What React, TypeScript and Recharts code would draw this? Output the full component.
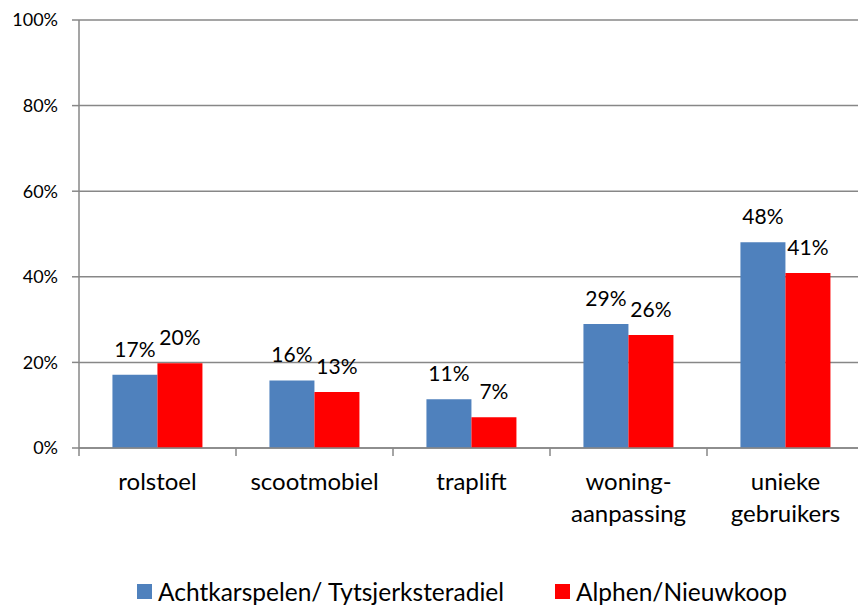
import React from 'react';
import { BarChart, Bar, XAxis, YAxis, CartesianGrid, LabelList, Legend } from 'recharts';

const categories = ['rolstoel', 'scootmobiel', 'traplift', 'woning-\naanpassing', 'unieke\ngebruikers'];
const seriesNames = ['Achtkarspelen/ Tytsjerksteradiel', 'Alphen/Nieuwkoop'];
const achtkarspelen = [17.1, 15.8, 11.4, 29.0, 48.1];
const alphen = [19.8, 13.1, 7.2, 26.4, 40.9];
const yTicks = [0, 20, 40, 60, 80, 100];
const colors = ['#4F81BD', '#FF0000'];

const data = categories.map((c, i) => ({ name: c, a: achtkarspelen[i], b: alphen[i] }));

const FONT = 'Lato, "Open Sans", sans-serif';
const GRAY = '#878787';

const CatTick = (props: any) => {
  const { x, y, payload } = props;
  const off = payload && payload.offset ? payload.offset : 0;
  const lines = String(payload.value).split('\n');
  return (
    <g>
      <line x1={x - off} x2={x - off} y1={y} y2={y + 8} stroke={GRAY} strokeWidth={1.5} />
      <text x={x} y={y + 42} textAnchor="middle" fontFamily={FONT} fontSize={24} fill="#000">
        {lines.map((l, i) => (
          <tspan key={i} x={x} dy={i === 0 ? 0 : 32}>{l}</tspan>
        ))}
      </text>
    </g>
  );
};

const LegendContent = () => (
  <div style={{ display: 'flex', alignItems: 'center', paddingLeft: 137, fontFamily: FONT, fontSize: 24.5, color: '#000', whiteSpace: 'nowrap' }}>
    {seriesNames.map((n, i) => (
      <div key={n} style={{ display: 'flex', alignItems: 'center', marginRight: 51 }}>
        <div style={{ width: 15, height: 15, background: colors[i], marginRight: 6 }} />
        <span>{n}</span>
      </div>
    ))}
  </div>
);

export default function App() {
  return (
    <div style={{ position: 'absolute', left: 0, top: 0, width: 858, height: 606, overflow: 'hidden', background: '#fff' }}>
      <BarChart
        width={870}
        height={606}
        data={data}
        margin={{ top: 20, right: 6, left: 0, bottom: 0 }}
        barCategoryGap="21.3%"
        barGap={0}
      >
        <CartesianGrid vertical={false} stroke={GRAY} strokeWidth={1.5} />
        <XAxis
          dataKey="name"
          interval={0}
          axisLine={{ stroke: GRAY, strokeWidth: 1.5 }}
          tickLine={false}
          tickSize={0}
          tickMargin={0}
          height={128}
          tick={<CatTick />}
        />
        <YAxis
          domain={[0, 100]}
          ticks={yTicks}
          width={79}
          interval={0}
          tickFormatter={(v: number) => `${v}%`}
          axisLine={{ stroke: GRAY, strokeWidth: 1.5 }}
          tickLine={{ stroke: GRAY, strokeWidth: 1.5 }}
          tickSize={7}
          tickMargin={14}
          tick={{ fontFamily: FONT, fontSize: 18, fill: '#000' }}
        />
        <Legend
          verticalAlign="bottom"
          content={<LegendContent />}
          wrapperStyle={{ position: 'absolute', left: 0, top: 577, width: 858, height: 30 }}
        />
        <Bar dataKey="a" name={seriesNames[0]} fill={colors[0]} isAnimationActive={false}>
          <LabelList dataKey="a" position="top" offset={18} formatter={(v: any) => `${Math.round(v)}%`} style={{ fontFamily: FONT, fontSize: 21, fill: '#000' }} />
        </Bar>
        <Bar dataKey="b" name={seriesNames[1]} fill={colors[1]} isAnimationActive={false}>
          <LabelList dataKey="b" position="top" offset={18} formatter={(v: any) => `${Math.round(v)}%`} style={{ fontFamily: FONT, fontSize: 21, fill: '#000' }} />
        </Bar>
      </BarChart>
    </div>
  );
}
